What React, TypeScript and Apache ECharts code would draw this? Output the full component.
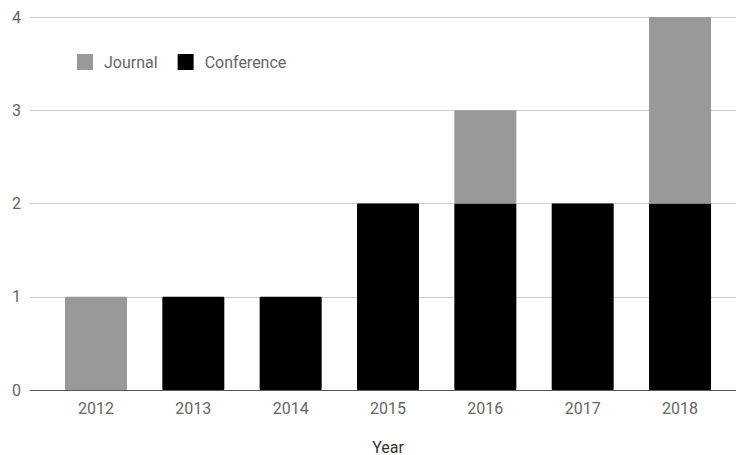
import React, { useEffect, useRef } from "react";
import * as echarts from "echarts";

const years = ["2012", "2013", "2014", "2015", "2016", "2017", "2018"];
const conference = [0, 1, 1, 2, 2, 2, 2];
const journal = [1, 0, 0, 0, 1, 0, 2];
const yTicks = [0, 1, 2, 3, 4];

const FONT = "Roboto, 'Noto Sans', sans-serif";

export default function App() {
  const ref = useRef<HTMLDivElement>(null);
  useEffect(() => {
    if (!ref.current) return;
    const chart = echarts.init(ref.current, undefined, { renderer: "svg" });
    const top = 17;
    const bottom = 65;
    chart.setOption({
      animation: false,
      textStyle: { fontFamily: FONT },
      legend: {
        left: 72,
        top: 49,
        itemWidth: 16,
        itemHeight: 16,
        itemGap: 20,
        icon: "rect",
        itemStyle: { borderRadius: 2 },
        data: ["Journal", "Conference"],
        textStyle: { fontSize: 16, color: "#666666", fontFamily: FONT, padding: [0, 0, 0, 6] },
      },
      grid: [
        { left: 30, right: 0, top, bottom, containLabel: false, outerBoundsMode: "none" },
        { left: 47.3, right: 7.3, top, bottom, containLabel: false, outerBoundsMode: "none" },
      ],
      xAxis: [
        {
          gridIndex: 0,
          type: "category",
          data: years,
          axisLine: { show: true, lineStyle: { color: "#555", width: 1 } },
          axisTick: { show: false },
          axisLabel: { show: false },
          splitLine: { show: false },
          z: 5,
        },
        {
          gridIndex: 1,
          type: "category",
          data: years,
          axisLine: { show: false },
          axisTick: { show: false },
          axisLabel: { fontSize: 16, color: "#666666", margin: 10, fontFamily: FONT },
          name: "Year",
          nameLocation: "middle",
          nameGap: 49,
          nameTextStyle: { fontSize: 16, color: "#333", fontFamily: FONT },
        },
      ],
      yAxis: [
        {
          gridIndex: 0,
          type: "value",
          min: yTicks[0],
          max: yTicks[yTicks.length - 1],
          interval: 1,
          axisLine: { show: false },
          axisTick: { show: false },
          axisLabel: { fontSize: 16, color: "#666666", margin: 9, fontFamily: FONT },
          splitLine: { show: true, lineStyle: { color: "#cccccc", width: 1 } },
        },
        {
          gridIndex: 1,
          type: "value",
          min: yTicks[0],
          max: yTicks[yTicks.length - 1],
          interval: 1,
          show: false,
          splitLine: { show: false },
        },
      ],
      series: [
        {
          name: "Conference",
          type: "bar",
          stack: "total",
          xAxisIndex: 1,
          yAxisIndex: 1,
          data: conference,
          barWidth: 62,
          itemStyle: { color: "#000000", borderRadius: 1 },
          z: 3,
        },
        {
          name: "Journal",
          type: "bar",
          stack: "total",
          xAxisIndex: 1,
          yAxisIndex: 1,
          data: journal,
          barWidth: 62,
          itemStyle: { color: "#999999", borderRadius: 1 },
          z: 3,
        },
      ],
    });
    return () => chart.dispose();
  }, []);
  return <div ref={ref} style={{ width: 736, height: 455, position: "absolute", left: 0, top: 0 }} />;
}
